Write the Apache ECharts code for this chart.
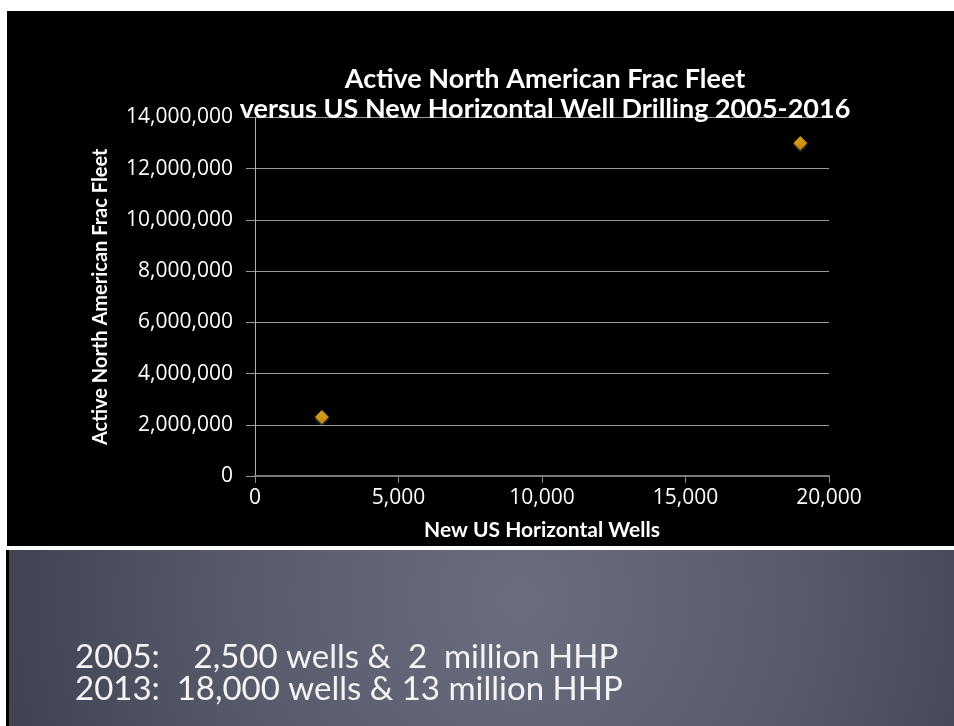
<!DOCTYPE html>
<html>
<head>
<meta charset="utf-8">
<script src="https://cdn.jsdelivr.net/npm/echarts@6/dist/echarts.min.js"></script>
<style>
  html, body { margin: 0; padding: 0; background: #fff; }
  #chart { width: 954px; height: 726px; }
</style>
</head>
<body>
<div id="chart"></div>
<script>
// ---- data ----
const titleLines = ['Active North American Frac Fleet', 'versus US New Horizontal Well Drilling 2005-2016'];
const xAxisName = 'New US Horizontal Wells';
const yAxisName = 'Active North American Frac Fleet';
const wells = [2330, 19000];          // New US horizontal wells
const fleetHHP = [2300000, 13000000]; // Active frac fleet (HHP)
const xMin = 0, xMax = 20000, xStep = 5000;
const yMin = 0, yMax = 14000000, yStep = 2000000;
const noteLines = ['2005:    2,500 wells &  2  million HHP', '2013:  18,000 wells & 13 million HHP'];

const points = wells.map((w, i) => [w, fleetHHP[i]]);
const fmt = v => Number(v).toLocaleString('en-US');

const sepY = 546;
const chart = echarts.init(document.getElementById('chart'));
chart.setOption({
  backgroundColor: '#ffffff',
  animation: false,
  graphic: [
    { type: 'rect', z: -100, silent: true, shape: { x: 7, y: 11, width: 947, height: sepY - 11 }, style: { fill: '#000000' } },
    { type: 'rect', z: -100, silent: true, shape: { x: 6, y: sepY + 4, width: 3, height: 726 - sepY - 4 }, style: { fill: '#000000' } },
    { type: 'rect', z: -100, silent: true, shape: { x: 9, y: sepY + 4, width: 945, height: 726 - sepY - 4 },
      style: { fill: new echarts.graphic.RadialGradient(520, 600, 560, [
        { offset: 0, color: '#6a6e7e' },
        { offset: 0.5, color: '#575b6b' },
        { offset: 1, color: '#3c3f4d' }
      ], true) } },
    { type: 'text', z: 10, silent: true, x: 545, y: 64,
      style: { text: titleLines.join('\n'), align: 'center', verticalAlign: 'top',
        fill: '#ffffff', font: 'bold 27px Lato', lineHeight: 30 } },
    { type: 'text', z: 10, silent: true, x: 75, y: 641,
      style: { text: noteLines.join('\n'), align: 'left', verticalAlign: 'top',
        fill: '#f4f4f4', font: '33px Lato', lineHeight: 32 } }
  ],
  grid: { left: 255, right: 125, top: 117.5, bottom: 250, containLabel: false },
  xAxis: {
    type: 'value', min: xMin, max: xMax, interval: xStep,
    name: xAxisName, nameLocation: 'middle', nameGap: 44,
    nameTextStyle: { color: '#ffffff', fontFamily: 'Lato', fontWeight: 'bold', fontSize: 21 },
    axisLine: { show: true, lineStyle: { color: '#7a7a7a', width: 2 } },
    axisTick: { show: true, inside: false, length: 7, lineStyle: { color: '#8a8a8a', width: 1 } },
    axisLabel: { color: '#ffffff', fontFamily: 'Open Sans', fontSize: 21, margin: 12, formatter: fmt },
    splitLine: { show: false }
  },
  yAxis: {
    type: 'value', min: yMin, max: yMax, interval: yStep,
    name: yAxisName, nameLocation: 'middle', nameGap: 144, nameRotate: 90,
    nameTextStyle: { color: '#ffffff', fontFamily: 'Lato', fontWeight: 'bold', fontSize: 20 },
    axisLine: { show: true, lineStyle: { color: '#b0b0b0', width: 1 } },
    axisTick: { show: true, inside: false, length: 9, lineStyle: { color: '#9a9a9a', width: 1 } },
    axisLabel: { color: '#ffffff', fontFamily: 'Open Sans', fontSize: 21, margin: 22, formatter: fmt },
    splitLine: { show: true, lineStyle: { color: '#9a9a9a', width: 1 } }
  },
  series: [{
    type: 'scatter',
    data: points,
    symbol: 'diamond',
    symbolSize: 14,
    itemStyle: {
      color: new echarts.graphic.LinearGradient(0, 0, 0, 1, [
        { offset: 0, color: '#ffc61a' },
        { offset: 1, color: '#eb9500' }
      ]),
      shadowColor: 'rgba(120,120,120,0.6)', shadowOffsetY: 2, shadowBlur: 2
    }
  }]
});
</script>
</body>
</html>
